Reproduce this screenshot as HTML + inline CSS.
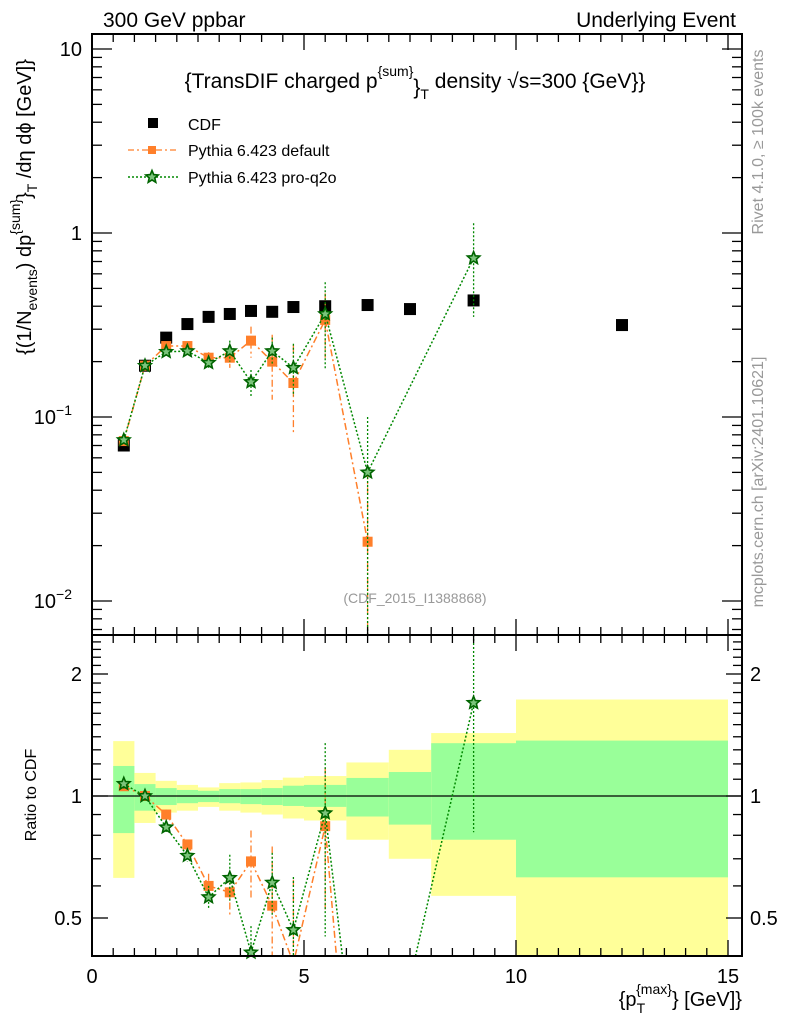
<!DOCTYPE html>
<html><head><meta charset="utf-8"><style>
html,body{margin:0;padding:0;background:#fff;width:786px;height:1024px;overflow:hidden;position:relative;}
svg{display:block;position:absolute;left:0;top:0;font-family:"Liberation Sans",sans-serif;}
</style></head><body>
<svg id="chart" width="786" height="1024" viewBox="0 0 786 1024" xmlns="http://www.w3.org/2000/svg" overflow="hidden">
<g id="bands"></g>
<g id="marks"></g>
<g id="axes"></g>
<text x="103" y="27" font-size="21">300 GeV ppbar</text>
<text x="736" y="27" font-size="21" text-anchor="end">Underlying Event</text>
<text x="415" y="88" font-size="21" text-anchor="middle">{TransDIF charged p<tspan dy="-12" font-size="14">{sum}</tspan><tspan dy="18">}</tspan><tspan dy="5" font-size="14">T</tspan><tspan dy="-11"> density √s=300 {GeV}}</tspan></text>
<g font-size="16">
<rect x="148" y="118" width="10" height="10" fill="#000"/>
<text x="188" y="130">CDF</text>
<line x1="128" y1="150" x2="178" y2="150" stroke="#ff7f2a" stroke-width="1.3" stroke-dasharray="6,3,2,3"/>
<rect x="148" y="146" width="8" height="8" fill="#ff7f2a"/>
<text x="188" y="156">Pythia 6.423 default</text>
<line x1="128" y1="177" x2="178" y2="177" stroke="#008800" stroke-width="1.5" stroke-dasharray="2,2"/>
<polygon points="" id="legstar" fill="#7bc47b" stroke="#006400" stroke-width="1.6"/>
<text x="188" y="183">Pythia 6.423 pro-q2o</text>
</g>
<text x="415" y="603" font-size="14" fill="#999" text-anchor="middle">(CDF_2015_I1388868)</text>
<text transform="translate(763,142) rotate(-90)" font-size="16" fill="#999" text-anchor="middle">Rivet 4.1.0, ≥ 100k events</text>
<text transform="translate(763,482) rotate(-90)" font-size="16" fill="#999" text-anchor="middle">mcplots.cern.ch [arXiv:2401.10621]</text>
<text transform="translate(31,207) rotate(-90)" font-size="20" text-anchor="middle">{(1/N<tspan dy="6" font-size="14">events</tspan><tspan dy="-6">) dp</tspan><tspan dy="-11" font-size="14">{sum}</tspan><tspan dy="11">}</tspan><tspan dy="6" font-size="14">T</tspan><tspan dy="-6"> /dη  dϕ [GeV]}</tspan></text>
<text transform="translate(36,795) rotate(-90)" font-size="16" text-anchor="middle">Ratio to CDF</text>
<text x="742" y="1006" font-size="20" text-anchor="end">{p<tspan dy="7" font-size="14">T</tspan><tspan dx="-9" dy="-19" font-size="14">{max}</tspan><tspan dy="12">} [GeV]}</tspan></text>
</svg>
<script>
const xs = [0.75,1.25,1.75,2.25,2.75,3.25,3.75,4.25,4.75,5.5,6.5,7.5,9,12.5];
const cdf = [0.070,0.19,0.27,0.32,0.35,0.363,0.377,0.373,0.396,0.40,0.406,0.386,0.43,0.316];
const defX = [0.75,1.25,1.75,2.25,2.75,3.25,3.75,4.25,4.75,5.5,6.5];
const defV = [0.074,0.19,0.243,0.243,0.21,0.21,0.26,0.20,0.153,0.337,0.021];
const defUp = [0.076,0.195,0.25,0.25,0.225,0.235,0.31,0.28,0.246,0.47,0.05];
const defDn = [0.072,0.185,0.236,0.236,0.195,0.185,0.21,0.124,0.081,0.21,0.001];
const q2oX = [0.75,1.25,1.75,2.25,2.75,3.25,3.75,4.25,4.75,5.5,6.5,9];
const q2oV = [0.075,0.19,0.226,0.228,0.197,0.228,0.155,0.228,0.185,0.363,0.05,0.73];
const q2oUp = [0.077,0.195,0.232,0.236,0.21,0.26,0.18,0.27,0.25,0.54,0.1,1.13];
const q2oDn = [0.073,0.185,0.22,0.22,0.185,0.2,0.13,0.19,0.13,0.18,0.001,0.35];
const binEdges = [0.5,1,1.5,2,2.5,3,3.5,4,4.5,5,6,7,8,10,15];
const yelHi = [1.366,1.14,1.09,1.065,1.05,1.076,1.08,1.095,1.11,1.12,1.21,1.30,1.43,1.73];
const grnHi = [1.186,1.07,1.046,1.035,1.03,1.04,1.04,1.046,1.06,1.065,1.108,1.146,1.35,1.37];
const grnLo = [0.81,0.92,0.95,0.96,0.966,0.96,0.955,0.95,0.945,0.94,0.89,0.85,0.78,0.63];
const yelLo = [0.628,0.858,0.91,0.92,0.94,0.92,0.91,0.90,0.88,0.87,0.78,0.70,0.567,0.39];
const xTicks = [0,5,10,15];
const mainTicks = [0.01,0.1,1,10];
const ratioTicks = [0.5,1,2];

const NS="http://www.w3.org/2000/svg";
const L=92,R=742,T=34,MB=635,RB=956;
const X=v=>L+v*(304-L)/5;
const Y=v=>233-184*Math.log10(v);
const YR=r=>796-122*Math.log2(r);
function mk(tag,attrs,parent){const e=document.createElementNS(NS,tag);for(const k in attrs)e.setAttribute(k,attrs[k]);parent.appendChild(e);return e;}
const bands=document.getElementById('bands'),marks=document.getElementById('marks'),axes=document.getElementById('axes');
function starPts(cx,cy,r){let p=[];for(let i=0;i<10;i++){const a=-Math.PI/2+i*Math.PI/5;const rr=i%2?r*0.45:r;p.push((cx+rr*Math.cos(a)).toFixed(1)+','+(cy+rr*Math.sin(a)).toFixed(1));}return p.join(' ');}
document.getElementById('legstar').setAttribute('points',starPts(152,177,6.5));

for(let i=0;i<yelHi.length;i++){
  const x0=X(binEdges[i]),x1=X(binEdges[i+1]);
  const yt=Math.max(MB,YR(yelHi[i])),yb=Math.min(RB,YR(yelLo[i]));
  const y=mk('rect',{x:x0,y:yt,width:x1-x0,height:yb-yt,fill:'#ffff99'},bands);
  
  
  const gt=Math.max(MB,YR(grnHi[i])),gb=Math.min(RB,YR(grnLo[i]));
  const g=mk('rect',{x:x0,y:gt,width:x1-x0,height:gb-gt,fill:'#99ff99'},bands);
  
  
}
const one=mk('line',{x1:L,x2:R,y1:YR(1),y2:YR(1),stroke:'#000','stroke-width':1.3},bands);



function cdfAt(x){return cdf[xs.indexOf(x)];}
function clipSeg(x1,y1,x2,y2,lo,hi){
  // clip segment to y in [lo,hi]
  let t0=0,t1=1;const dy=y2-y1;
  if(dy===0){if(y1<lo||y1>hi)return null;return [x1,y1,x2,y2];}
  let ta=(lo-y1)/dy,tb=(hi-y1)/dy;if(ta>tb){const t=ta;ta=tb;tb=t;}
  t0=Math.max(t0,ta);t1=Math.min(t1,tb);if(t0>=t1)return null;
  return [x1+(x2-x1)*t0,y1+dy*t0,x1+(x2-x1)*t1,y1+dy*t1];
}
function series(par,xa,va,up,dn,yf,ratio,color,dash,marker,name,lo,hi){
  const val=(i,v)=>ratio?v/cdfAt(xa[i]):v;
  let d='';
  for(let i=0;i<xa.length-1;i++){
    const s=clipSeg(X(xa[i]),yf(val(i,va[i])),X(xa[i+1]),yf(val(i+1,va[i+1])),lo,hi);
    if(s)d+='M'+s[0].toFixed(1)+','+s[1].toFixed(1)+'L'+s[2].toFixed(1)+','+s[3].toFixed(1);
  }
  const pl=mk('path',{d,fill:'none',stroke:color,'stroke-width':1.5,'stroke-dasharray':dash},par);
  
  
  xa.forEach((x,i)=>{
    const s=clipSeg(X(x),yf(val(i,up[i])),X(x),yf(val(i,dn[i])),lo,hi);
    if(s){
      const e=mk('line',{x1:s[0],x2:s[2],y1:s[1],y2:s[3],stroke:color,'stroke-width':1.3,'stroke-dasharray':dash},par);
      
      
    }
    const cy=yf(val(i,va[i]));
    if(cy<lo||cy>hi)return;
    let m;
    if(marker==='sq') m=mk('rect',{x:X(x)-5,y:cy-5,width:10,height:10,fill:color},par);
    else m=mk('polygon',{points:starPts(X(x),cy,6.5),fill:'#7bc47b',stroke:'#006400','stroke-width':1.6},par);
    
    
  });
}
xs.forEach(x=>{const m=mk('rect',{x:X(x)-6,y:Y(cdfAt(x))-6,width:12,height:12,fill:'#000'},marks);
  
  });
series(marks,defX,defV,defUp,defDn,Y,false,'#ff7f2a','7,3,2,3','sq','pythia-default',T,MB);
series(marks,q2oX,q2oV,q2oUp,q2oDn,Y,false,'#008800','2,2','star','pythia-q2o',T,MB);
series(marks,defX,defV,defUp,defDn,YR,true,'#ff7f2a','7,3,2,3','sq','ratio-pythia-default',MB,RB);
series(marks,q2oX,q2oV,q2oUp,q2oDn,YR,true,'#008800','2,2','star','ratio-pythia-q2o',MB,RB);

const f1=mk('rect',{x:L,y:T,width:R-L,height:MB-T,fill:'none',stroke:'#000','stroke-width':2},axes);


const f2=mk('rect',{x:L,y:MB,width:R-L,height:RB-MB,fill:'none',stroke:'#000','stroke-width':2},axes);


function tick(x1,y1,x2,y2){mk('line',{x1,y1,x2,y2,stroke:'#000','stroke-width':1.3},axes);}
for(let v=0;v<=15.3;v+=0.5){const big=Math.abs(v%5)<1e-6;const len=big?16:8;
  [T,MB].forEach(b=>tick(X(v),b,X(v),b+len));[MB,RB].forEach(b=>tick(X(v),b,X(v),b-len));}
xTicks.forEach(v=>{const t=mk('text',{x:X(v),y:983,'font-size':20,'text-anchor':'middle'},axes);t.textContent=v;
  
  });
for(let d=-3;d<=1;d++)for(let k=1;k<=9;k++){const v=k*Math.pow(10,d);const y=Y(v);if(y<T||y>MB)continue;
  const len=k===1?20:10;tick(L,y,L+len,y);tick(R,y,R-len,y);}
mainTicks.forEach(v=>{const t=mk('text',{x:82,y:Y(v)+7,'font-size':20,'text-anchor':'end'},axes);
  
  
  if(v===1)t.textContent='1';else if(v===10)t.textContent='10';
  else{t.textContent='10';const s=mk('tspan',{dy:-9,'font-size':14},t);s.textContent=(v===0.1?'−1':'−2');t.setAttribute('x',72);}});
for(let r=0.4;r<=2.55;r+=0.1){const y=YR(r);if(y<MB||y>RB)continue;const big=ratioTicks.some(q=>Math.abs(q-r)<1e-6);
  const len=big?16:9;tick(L,y,L+len,y);tick(R,y,R-len,y);}
ratioTicks.forEach(v=>{[[82,'end'],[750,'start']].forEach(([x,a])=>{const t=mk('text',{x,y:YR(v)+7,'font-size':20,'text-anchor':a},axes);t.textContent=v;
  
  });});
</script>
</body></html>
